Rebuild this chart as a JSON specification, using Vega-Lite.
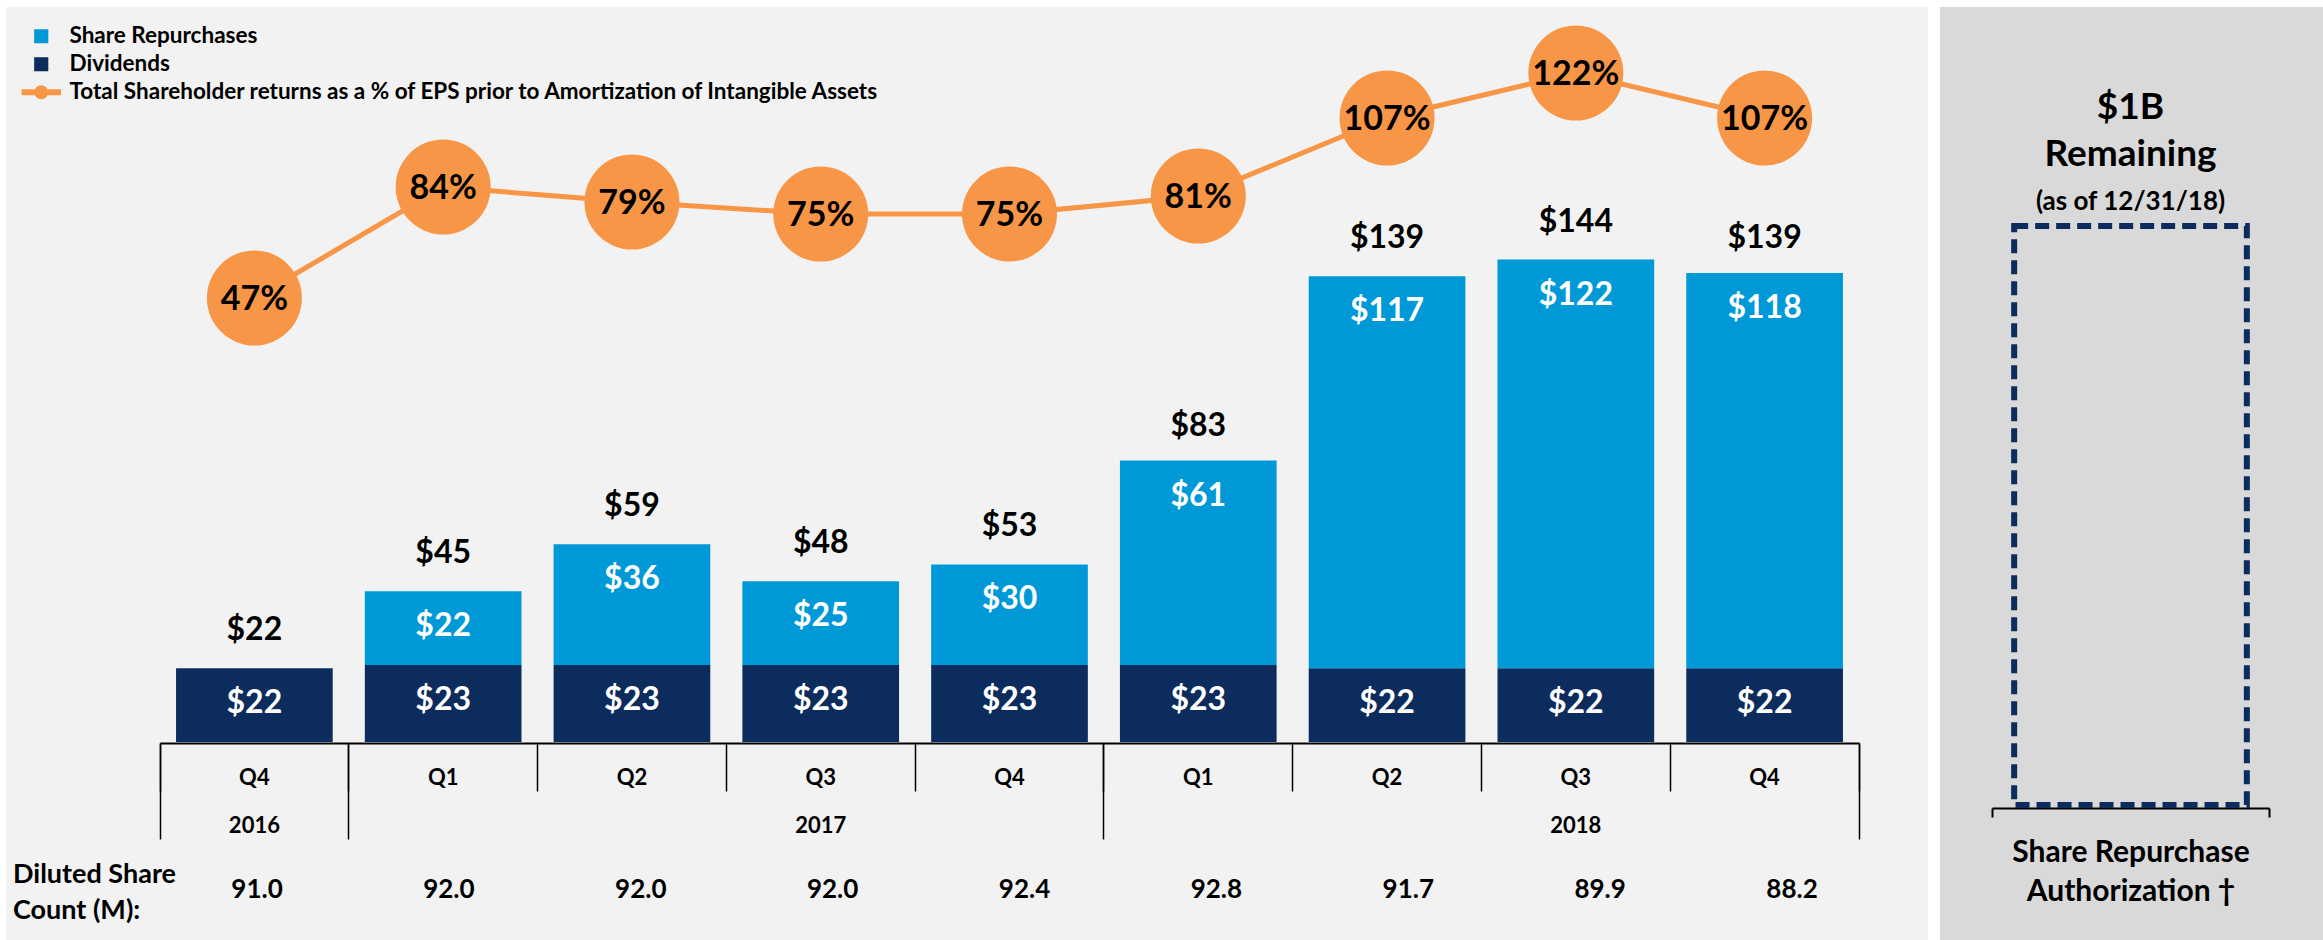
{
  "$schema": "https://vega.github.io/schema/vega-lite/v6.json",
  "background": "white",
  "padding": {"left": 6, "top": 7, "right": 0, "bottom": 0},
  "spacing": 12,
  "config": {"view": {"stroke": null}, "axis": {"grid": false}},
  "datasets": {
    "segments": [
      {"quarter": "Q4 2016", "series": "Dividends", "amount": 22},
      {"quarter": "Q1 2017", "series": "Dividends", "amount": 23},
      {"quarter": "Q1 2017", "series": "Share Repurchases", "amount": 22},
      {"quarter": "Q2 2017", "series": "Dividends", "amount": 23},
      {"quarter": "Q2 2017", "series": "Share Repurchases", "amount": 36},
      {"quarter": "Q3 2017", "series": "Dividends", "amount": 23},
      {"quarter": "Q3 2017", "series": "Share Repurchases", "amount": 25},
      {"quarter": "Q4 2017", "series": "Dividends", "amount": 23},
      {"quarter": "Q4 2017", "series": "Share Repurchases", "amount": 30},
      {"quarter": "Q1 2018", "series": "Dividends", "amount": 23},
      {"quarter": "Q1 2018", "series": "Share Repurchases", "amount": 61},
      {"quarter": "Q2 2018", "series": "Dividends", "amount": 22},
      {"quarter": "Q2 2018", "series": "Share Repurchases", "amount": 117},
      {"quarter": "Q3 2018", "series": "Dividends", "amount": 22},
      {"quarter": "Q3 2018", "series": "Share Repurchases", "amount": 122},
      {"quarter": "Q4 2018", "series": "Dividends", "amount": 22},
      {"quarter": "Q4 2018", "series": "Share Repurchases", "amount": 118}
    ],
    "quarters": [
      {"quarter": "Q4 2016", "total": 22, "pct": 0.47, "shares": 91.0},
      {"quarter": "Q1 2017", "total": 45, "pct": 0.84, "shares": 92.0},
      {"quarter": "Q2 2017", "total": 59, "pct": 0.79, "shares": 92.0},
      {"quarter": "Q3 2017", "total": 48, "pct": 0.75, "shares": 92.0},
      {"quarter": "Q4 2017", "total": 53, "pct": 0.75, "shares": 92.4},
      {"quarter": "Q1 2018", "total": 83, "pct": 0.81, "shares": 92.8},
      {"quarter": "Q2 2018", "total": 139, "pct": 1.07, "shares": 91.7},
      {"quarter": "Q3 2018", "total": 144, "pct": 1.22, "shares": 89.9},
      {"quarter": "Q4 2018", "total": 139, "pct": 1.07, "shares": 88.2}
    ],
    "years": [
      {"year": "2016", "quarter": "Q4 2016"},
      {"year": "2017", "quarter": "Q3 2017"},
      {"year": "2018", "quarter": "Q3 2018"}
    ],
    "rowHeader": [
      {"header": ["Diluted Share", "Count (M):"]}
    ],
    "authorization": [
      {"item": "Share Repurchase Authorization", "remaining": 1, "headline": "$1B", "status": "Remaining", "asof": "(as of 12/31/18)"}
    ]
  },
  "hconcat": [
    {
      "width": 1922,
      "height": 933,
      "view": {"fill": "#F2F2F2", "stroke": null},
      "resolve": {"scale": {"x": "independent", "y": "independent"}, "axis": {"x": "independent", "y": "independent"}},
      "layer": [
        {
          "resolve": {"axis": {"x": "independent"}},
          "layer": [
            {
              "data": {"name": "segments"},
              "mark": {"type": "bar", "width": {"band": 0.83}},
              "encoding": {
                "x": {"field": "quarter", "type": "nominal",
                  "scale": {"domain": ["Q4 2016","Q1 2017","Q2 2017","Q3 2017","Q4 2017","Q1 2018","Q2 2018","Q3 2018","Q4 2018"], "range": [154, 1853], "paddingInner": 0, "paddingOuter": 0},
                  "axis": {"orient": "bottom", "offset": -197, "domain": true, "domainColor": "black", "domainWidth": 2, "ticks": false, "labels": true, "labelExpr": "split(datum.label, ' ')[0]", "labelFont": "Lato", "labelFontSize": 22, "labelFontWeight": "bold", "labelColor": "black", "labelPadding": 34, "labelBaseline": "middle", "labelAngle": 0, "title": null, "grid": false, "zindex": 1}},
                "y": {"field": "amount", "type": "quantitative", "stack": "zero", "scale": {"domain": [0, 150], "range": [735, 232.5], "nice": false, "zero": true}, "axis": null},
                "color": {"field": "series", "type": "nominal",
                  "scale": {"domain": ["Share Repurchases", "Dividends", "Total Shareholder returns as a % of EPS prior to Amortization of Intangible Assets"], "range": ["#0099D8", "#0D2C5E", "#F79646"]},
                  "legend": {"orient": "none", "legendX": 24, "legendY": 18, "title": null, "padding": 0, "direction": "vertical",
                    "labelFont": "Lato", "labelFontSize": 22.5, "labelFontWeight": "bold", "labelColor": "black", "labelLimit": 1500, "labelOffset": 17,
                    "symbolType": "square", "symbolSize": 160, "rowPadding": 5,
                    "encode": {"symbols": {"update": {
                      "shape": {"signal": "datum.value === 'Dividends' || datum.value === 'Share Repurchases' ? 'square' : 'M-3,-0.36H3V0.36H-3Z M1,0A1,1,0,1,1,-1,0A1,1,0,1,1,1,0Z'"},
                      "fill": {"signal": "datum.value === 'Dividends' ? '#000000' : datum.value === 'Share Repurchases' ? '#0099D8' : '#F79646'"},
                      "stroke": {"value": "transparent"},
                      "opacity": {"value": 1}
                    }}}}},
                "order": {"field": "series", "sort": "ascending"}
              }
            },
            {
              "data": {"name": "segments"},
              "mark": {"type": "text", "dy": 35, "baseline": "middle", "align": "center", "font": "Lato", "fontWeight": "bold", "fontSize": 32, "color": "white"},
              "encoding": {
                "x": {"field": "quarter", "type": "nominal",
                  "scale": {"domain": ["Q4 2016","Q1 2017","Q2 2017","Q3 2017","Q4 2017","Q1 2018","Q2 2018","Q3 2018","Q4 2018"], "range": [154, 1853], "paddingInner": 0, "paddingOuter": 0},
                  "axis": {"orient": "bottom", "offset": -197, "domain": false, "ticks": true, "tickExtra": true, "bandPosition": 1, "tickSize": 48, "tickColor": "black", "tickWidth": 1.5, "labels": false, "title": null, "grid": false}},
                "y": {"field": "amount", "type": "quantitative", "stack": "zero", "scale": {"domain": [0, 150], "range": [735, 232.5], "nice": false, "zero": true}, "axis": null},
                "detail": {"field": "series"},
                "order": {"field": "series", "sort": "ascending"},
                "text": {"field": "amount", "type": "quantitative", "format": "$.0f"}
              }
            },
            {
              "data": {"name": "quarters"},
              "mark": {"type": "text", "dy": -38, "baseline": "middle", "align": "center", "font": "Lato", "fontWeight": "bold", "fontSize": 32, "color": "black"},
              "encoding": {
                "x": {"field": "quarter", "type": "nominal",
                  "scale": {"domain": ["Q4 2016","Q1 2017","Q2 2017","Q3 2017","Q4 2017","Q1 2018","Q2 2018","Q3 2018","Q4 2018"], "range": [154, 1853], "paddingInner": 0, "paddingOuter": 0},
                  "axis": {"orient": "bottom", "offset": -197, "domain": false, "ticks": true, "tickExtra": true, "bandPosition": 1, "values": ["Q4 2016", "Q4 2017", "Q4 2018"], "tickSize": 96, "tickColor": "black", "tickWidth": 1.5, "labels": false, "title": null, "grid": false}},
                "y": {"field": "total", "type": "quantitative", "scale": {"domain": [0, 150], "range": [735, 232.5], "nice": false, "zero": true}, "axis": null},
                "text": {"field": "total", "type": "quantitative", "format": "$.0f"}
              }
            }
          ]
        },
        {
          "data": {"name": "quarters"},
          "encoding": {
            "x": {"field": "quarter", "type": "nominal",
              "scale": {"domain": ["Q4 2016","Q1 2017","Q2 2017","Q3 2017","Q4 2017","Q1 2018","Q2 2018","Q3 2018","Q4 2018"], "range": [154, 1853], "paddingInner": 0, "paddingOuter": 0},
              "axis": null},
            "y": {"field": "pct", "type": "quantitative", "scale": {"domain": [0, 1], "range": [432, 132], "nice": false, "zero": false}, "axis": null}
          },
          "layer": [
            {"mark": {"type": "line", "strokeWidth": 5}, "encoding": {"color": {"datum": "Total Shareholder returns as a % of EPS prior to Amortization of Intangible Assets"}}},
            {"mark": {"type": "point", "filled": true, "shape": "circle", "size": 9025, "color": "#F79646", "opacity": 1, "strokeWidth": 0}},
            {"mark": {"type": "text", "baseline": "middle", "align": "center", "dy": 2, "font": "Lato", "fontWeight": "bold", "fontSize": 34, "color": "black"},
             "encoding": {"text": {"field": "pct", "type": "quantitative", "format": ".0%"}}}
          ]
        },
        {
          "resolve": {"scale": {"x": "independent"}, "axis": {"x": "independent"}},
          "layer": [
            {
              "data": {"name": "years"},
              "transform": [{"filter": "datum.year === '2016'"}],
              "mark": {"type": "text", "baseline": "middle", "align": "center", "font": "Lato", "fontWeight": "bold", "fontSize": 22, "color": "black"},
              "encoding": {
                "x": {"field": "quarter", "type": "nominal", "bandPosition": 0.5,
                  "scale": {"domain": ["Q4 2016","Q1 2017","Q2 2017","Q3 2017","Q4 2017","Q1 2018","Q2 2018","Q3 2018","Q4 2018"], "range": [154, 1853], "paddingInner": 0, "paddingOuter": 0},
                  "axis": null},
                "y": {"datum": "year", "type": "nominal", "scale": {"type": "point", "domain": ["year", "shares"], "range": [819, 883], "padding": 0}, "axis": null},
                "text": {"field": "year"}
              }
            },
            {
              "data": {"name": "years"},
              "transform": [{"filter": "datum.year !== '2016'"}],
              "mark": {"type": "text", "baseline": "middle", "align": "center", "font": "Lato", "fontWeight": "bold", "fontSize": 22, "color": "black"},
              "encoding": {
                "x": {"field": "quarter", "type": "nominal", "bandPosition": 0,
                  "scale": {"domain": ["Q4 2016","Q1 2017","Q2 2017","Q3 2017","Q4 2017","Q1 2018","Q2 2018","Q3 2018","Q4 2018"], "range": [154, 1853], "paddingInner": 0, "paddingOuter": 0},
                  "axis": null},
                "y": {"datum": "year", "type": "nominal", "scale": {"type": "point", "domain": ["year", "shares"], "range": [819, 883], "padding": 0}, "axis": null},
                "text": {"field": "year"}
              }
            },
            {
              "data": {"name": "quarters"},
              "mark": {"type": "text", "baseline": "middle", "align": "center", "font": "Lato", "fontWeight": "bold", "fontSize": 26, "color": "black"},
              "encoding": {
                "x": {"field": "quarter", "type": "nominal",
                  "scale": {"type": "point", "domain": ["Q4 2016","Q1 2017","Q2 2017","Q3 2017","Q4 2017","Q1 2018","Q2 2018","Q3 2018","Q4 2018"], "range": [251, 1786], "padding": 0},
                  "axis": null},
                "y": {"datum": "shares", "type": "nominal", "scale": {"type": "point", "domain": ["year", "shares"], "range": [819, 883], "padding": 0}, "axis": null},
                "text": {"field": "shares", "type": "quantitative", "format": ".1f"}
              }
            },
            {
              "data": {"name": "rowHeader"},
              "mark": {"type": "text", "baseline": "middle", "align": "left", "dy": -15, "lineHeight": 36, "font": "Lato", "fontWeight": "bold", "fontSize": 27, "color": "black"},
              "encoding": {
                "x": {"datum": "Diluted Share Count (M):", "type": "nominal",
                  "scale": {"type": "point", "domain": ["Diluted Share Count (M):"], "range": [7, 7], "padding": 0},
                  "axis": null},
                "y": {"datum": "shares", "type": "nominal", "scale": {"type": "point", "domain": ["year", "shares"], "range": [819, 883], "padding": 0}, "axis": null},
                "text": {"field": "header"}
              }
            }
          ]
        }
      ]
    },
    {
      "width": 383,
      "height": 933,
      "view": {"fill": "#D9D9D9", "stroke": null},
      "data": {"name": "authorization"},
      "encoding": {
        "x": {"field": "item", "type": "nominal",
          "scale": {"domain": ["Share Repurchase Authorization"], "range": [52, 329], "paddingInner": 0, "paddingOuter": 0},
          "axis": {"orient": "bottom", "offset": -132, "domain": true, "domainColor": "black", "domainWidth": 2, "ticks": true, "tickExtra": true, "bandPosition": 1, "tickSize": 9, "tickColor": "black", "tickWidth": 2, "labels": false, "grid": false,
            "title": ["Share Repurchase", "Authorization †"], "titleFont": "Lato", "titleFontSize": 30, "titleFontWeight": "bold", "titleColor": "black", "titleLineHeight": 39, "titlePadding": 19}},
        "y": {"field": "remaining", "type": "quantitative", "scale": {"domain": [0, 1], "range": [798, 219], "nice": false, "zero": true}, "axis": null}
      },
      "layer": [
        {"mark": {"type": "bar", "width": {"band": 0.84}, "fill": "transparent", "stroke": "#0D2C5E", "strokeWidth": 6, "strokeDash": [14, 7]}},
        {"mark": {"type": "text", "font": "Lato", "fontWeight": "bold", "fontSize": 37, "dy": -118, "baseline": "middle", "align": "center", "color": "black"}, "encoding": {"text": {"field": "headline"}}},
        {"mark": {"type": "text", "font": "Lato", "fontWeight": "bold", "fontSize": 37, "dy": -71, "baseline": "middle", "align": "center", "color": "black"}, "encoding": {"text": {"field": "status"}}},
        {"mark": {"type": "text", "font": "Lato", "fontWeight": "bold", "fontSize": 26, "dy": -24, "baseline": "middle", "align": "center", "color": "black"}, "encoding": {"text": {"field": "asof"}}}
      ]
    }
  ]
}
